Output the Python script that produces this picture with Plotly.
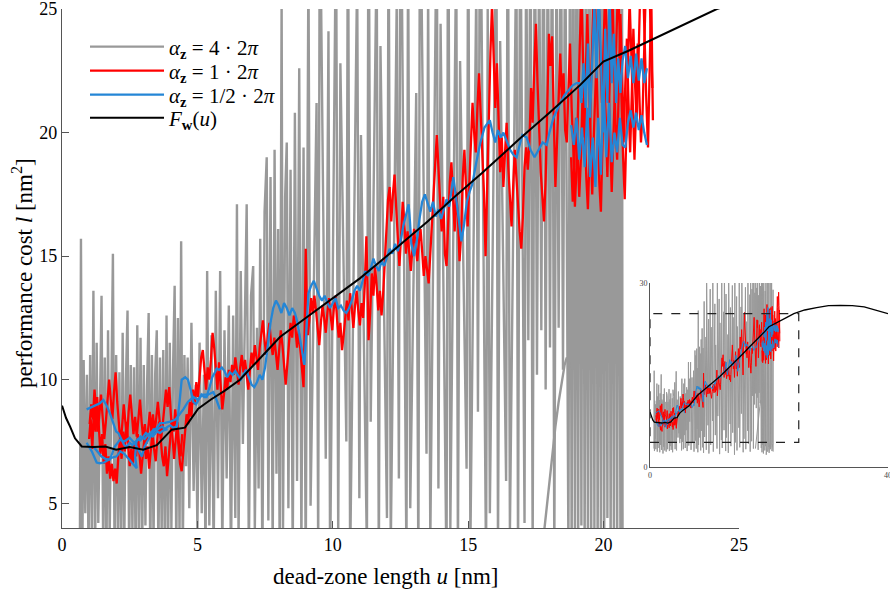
import plotly.graph_objects as go

# ---------------- data ----------------
# F_w(u): black reference curve (continues to u=40 in the inset)
fw_u = [0, 0.15, 0.3, 0.48, 0.73, 1.16, 1.6, 2.0, 2.5, 3.0, 3.5, 4.05, 4.54, 5.03, 5.5, 6.0,
        6.57, 7.3, 8.05, 9.0, 10.0, 11.0, 11.74, 12.48, 13.5, 14.5, 15.5, 16.91, 18.0, 19.13,
        19.99, 20.9, 21.8, 23.0, 24.18, 26, 28, 30, 32, 34, 36, 38, 40]
fw_v = [8.95, 8.45, 8.1, 7.63, 7.3, 7.28, 7.3, 7.17, 7.28, 7.17, 7.35, 7.98, 8.06, 8.83, 9.2, 9.55,
        10.0, 10.85, 11.73, 12.5, 13.3, 14.1, 14.77, 15.45, 16.4, 17.4, 18.35, 19.76, 20.8, 21.92,
        22.87, 23.3, 23.77, 24.4, 25.0, 25.6, 26.0, 26.3, 26.35, 26.3, 26.1, 25.6, 25.0]

# alpha_z = 4*2pi  (gray, very noisy)  (u, l) pairs, None = break between runs
gray_pts = [
    (0.66, 3.0), (0.70, 15.7), (0.75, 2.6), (0.80, 10.8), (0.86, 4.6), (0.92, 10.2), (0.98, 2.9),
    (1.04, 11.0), (1.10, 3.8), (1.16, 13.6), (1.22, 2.5), (1.28, 11.5), (1.34, 4.2), (1.40, 9.8),
    (1.46, 13.4), (1.52, 3.1), (1.58, 10.9), (1.64, 2.4), (1.70, 12.0), (1.76, 3.6), (1.82, 9.6),
    (1.88, 15.1), (1.94, 2.8), (2.00, 11.0), (2.06, 3.9), (2.12, 10.3), (2.18, 2.2), (2.24, 11.9),
    (2.30, 3.3), (2.36, 9.9), (2.42, 12.8), (2.48, 2.7), (2.54, 10.6), (2.60, 3.8), (2.66, 10.5),
    (2.72, 2.5), (2.78, 12.2), (2.84, 3.5), (2.90, 11.7), (2.96, 2.9), (3.02, 10.6), (3.08, 4.1),
    (3.14, 9.7), (3.20, 12.7), (3.26, 2.6), (3.32, 11.0), (3.38, 3.4), (3.44, 10.2), (3.50, 12.0),
    (3.56, 2.8), (3.62, 10.9), (3.68, 3.7), (3.74, 11.2), (3.80, 2.4), (3.86, 12.6), (3.92, 3.2),
    (3.98, 11.5), (4.04, 4.0), (4.10, 10.4), (4.16, 13.8), (4.22, 2.9), (4.28, 12.5), (4.34, 3.6),
    (4.40, 15.6), (4.46, 2.7), (4.52, 11.0),
    (4.58, 6.5), (4.64, 10.9), (4.70, 4.8), (4.78, 12.3), (4.86, 5.5), (4.94, 9.8), (5.00, 3.9),
    (5.08, 11.5), (5.16, 4.6), (5.24, 10.2), (5.30, 2.7), (5.36, 14.4), (5.44, 4.1), (5.52, 11.8),
    (5.60, 2.9), (5.68, 13.6), (5.76, 5.2), (5.84, 14.4), (5.92, 3.1), (6.00, 12.0), (6.08, 6.0),
    (6.16, 13.0), (6.24, 2.6), (6.32, 12.6), (6.40, 4.4), (6.46, 17.1), (6.52, 3.5), (6.60, 14.4),
    (6.68, 7.4), (6.76, 12.8), (6.82, 17.1), (6.90, 2.8), (6.98, 13.4), (7.06, 14.6), (7.12, 3.9),
    (7.20, 12.1), (7.26, 5.6), (7.32, 15.7), (7.40, 2.5), (7.48, 16.8), (7.56, 19.0), (7.62, 4.3),
    (7.70, 18.2), (7.78, 3.0), (7.85, 19.3), (7.92, 6.2), (7.98, 16.1), (8.04, 2.4), (8.11, 25.5),
    (8.16, 3.6), (8.24, 17.4), (8.30, 19.6), (8.36, 4.8), (8.44, 18.5), (8.52, 2.7), (8.60, 20.8),
    (8.68, 5.9), (8.76, 22.6), (8.84, 3.2), (8.92, 19.4), (9.00, 2.3),
    (9.10, 27.0), (9.18, 4.9), (9.40, 21.2), (9.46, 2.8), (9.52, 30.5), (9.74, 6.8), (9.84, 24.1),
    (9.90, 2.2), (10.12, 29.0), (10.20, 3.6), (10.28, 22.8), (10.50, 7.5), (10.56, 31.0),
    (10.64, 2.5), (10.90, 26.6), (10.98, 5.2), (11.04, 19.9), (11.26, 3.0), (11.32, 32.5),
    (11.40, 8.3), (11.62, 27.4), (11.70, 2.1), (11.76, 23.5), (12.00, 4.4), (12.06, 30.0),
    (12.14, 3.1), (12.36, 25.3), (12.44, 6.0), (12.50, 33.0), (12.72, 2.6), (12.78, 28.2),
    (12.86, 4.8), (13.08, 21.6), (13.16, 2.3), (13.22, 31.5), (13.46, 7.0), (13.52, 26.0),
    (13.60, 3.4), (13.84, 29.6), (13.90, 5.6), (13.98, 24.4), (14.20, 2.0), (14.26, 33.4),
    (14.34, 4.0), (14.56, 27.8), (14.62, 2.7), (14.70, 22.9), (14.94, 6.4), (15.00, 30.8),
    (15.08, 3.2), (15.30, 26.1), (15.36, 8.7), (15.44, 31.9), (15.66, 2.4), (15.72, 25.0),
    (15.80, 4.6), (16.04, 29.3), (16.10, 2.9), (16.18, 23.7), (16.40, 5.9), (16.46, 32.6),
    (16.54, 3.8), (16.78, 28.1), (16.84, 2.5), (16.92, 30.7), (17.08, 4.2),
    (17.14, 29.0), (17.22, 11.6), (17.30, 30.5), (17.38, 3.0), (17.46, 31.0),
    (17.54, 10.2), (17.62, 28.4), (17.70, 12.0), (17.78, 31.5), (17.86, 9.6), (17.94, 29.2),
    (18.02, 11.3), (18.10, 30.8), (18.18, 2.8), (18.26, 28.0), (18.34, 12.1), (18.42, 31.3),
    (18.50, 10.4), (18.58, 29.5),
    (18.70, 3.1), (18.76, 30.2), (18.82, 2.4), (18.88, 31.8), (18.94, 3.6), (19.00, 29.4),
    (19.06, 2.2), (19.12, 32.5), (19.18, 4.1), (19.24, 30.9), (19.30, 2.7), (19.36, 28.7),
    (19.42, 3.4), (19.48, 33.0), (19.54, 2.0), (19.60, 30.0), (19.66, 3.9), (19.72, 31.4),
    (19.78, 2.5), (19.84, 29.8), (19.90, 3.2), (19.96, 32.2), (20.02, 2.3), (20.08, 30.6),
    (20.14, 4.4), (20.20, 31.0), (20.26, 2.9), (20.32, 29.1), (20.38, 3.5), (20.44, 32.9),
    (20.50, 2.6), (20.56, 30.3), (20.62, 3.8), (20.68, 28.9), (20.70, 2.5),
    (None, None),
    (17.72, 3.0), (17.85, 4.4), (17.98, 5.8), (18.10, 7.0), (18.22, 8.1), (18.34, 9.1),
    (18.46, 9.9), (18.56, 10.6), (18.64, 10.9), (18.72, 10.7), (18.78, 10.2),
]

# alpha_z = 1*2pi  (red)
red_pts = [
    (1.00, 7.6), (1.06, 8.4), (1.12, 7.2), (1.18, 8.9), (1.24, 7.9), (1.30, 9.3), (1.36, 8.1),
    (1.42, 7.0), (1.48, 7.8), (1.54, 6.6), (1.60, 7.4), (1.66, 6.2), (1.72, 6.9), (1.78, 6.0),
    (1.84, 6.6), (1.90, 5.9), (1.96, 6.4), (2.02, 5.8), (2.08, 6.9), (2.14, 7.6), (2.20, 6.8),
    (2.26, 7.9), (2.32, 7.1), (2.38, 8.3), (2.44, 7.4), (2.50, 6.5), (2.56, 7.2), (2.62, 6.6),
    (2.68, 7.5), (2.74, 6.9), (2.80, 7.8), (2.86, 7.0), (2.92, 6.2), (2.98, 6.9), (3.04, 7.6),
    (3.10, 6.8), (3.16, 7.3), (3.22, 6.4), (3.28, 7.1), (3.34, 7.9), (3.40, 7.2), (3.46, 6.7),
    (3.52, 7.6), (3.58, 8.3), (3.64, 7.7), (3.70, 6.9), (3.76, 6.5), (3.82, 7.3), (3.88, 6.1),
    (3.94, 6.8), (4.00, 7.6), (4.06, 8.4), (4.12, 7.9), (4.18, 8.8), (4.24, 8.1), (4.30, 7.2),
    (4.36, 6.6), (4.42, 6.3), (4.48, 7.0),
    (4.54, 8.0), (4.60, 8.6), (4.66, 8.2), (4.72, 9.1), (4.78, 8.5), (4.84, 9.6), (4.90, 9.0),
    (4.96, 9.9), (5.02, 9.3), (5.08, 10.2), (5.14, 10.9), (5.20, 11.2), (5.26, 10.3), (5.32, 9.6),
    (5.38, 10.5), (5.44, 10.0), (5.50, 10.8), (5.56, 11.9), (5.62, 11.3), (5.68, 10.4),
    (5.74, 9.6), (5.80, 10.7), (5.86, 9.5), (5.92, 8.8), (5.98, 9.4), (6.04, 10.1), (6.10, 9.6),
    (6.16, 10.4), (6.22, 9.9), (6.28, 10.6), (6.34, 10.2), (6.40, 10.9), (6.46, 10.4),
    (6.52, 9.8), (6.58, 10.5), (6.64, 11.0), (6.70, 10.3), (6.76, 10.8), (6.82, 10.2),
    (6.88, 9.6), (6.94, 10.4), (7.00, 11.1), (7.06, 10.6), (7.12, 11.4), (7.18, 10.9),
    (7.24, 10.4), (7.30, 11.3), (7.36, 11.9), (7.42, 12.4), (7.48, 11.6), (7.54, 11.0),
    (7.60, 11.8), (7.66, 12.3), (7.72, 11.5), (7.78, 11.0), (7.84, 11.7), (7.90, 10.9),
    (7.96, 10.4), (8.02, 11.2), (8.08, 12.0), (8.14, 11.4), (8.20, 10.5), (8.26, 9.8),
    (8.32, 10.6), (8.38, 11.6), (8.44, 12.3), (8.50, 11.7), (8.56, 12.6), (8.62, 12.1),
    (8.68, 11.3), (8.74, 12.0), (8.80, 11.2), (8.86, 10.3), (8.92, 9.7), (8.96, 12.0),
    (9.00, 15.3), (9.04, 13.0), (9.08, 11.8), (9.14, 12.5), (9.20, 13.3), (9.26, 12.7),
    (9.32, 13.4), (9.38, 12.8), (9.44, 12.2), (9.50, 11.4), (9.56, 12.3), (9.62, 13.0),
    (9.68, 12.5), (9.74, 11.9), (9.80, 12.7), (9.86, 13.3), (9.92, 12.6), (9.98, 12.0),
    (10.04, 12.9), (10.10, 13.4), (10.16, 12.4), (10.22, 11.7), (10.28, 12.3), (10.34, 11.2),
    (10.40, 11.8), (10.46, 12.6), (10.52, 13.2), (10.58, 12.4), (10.64, 13.5), (10.70, 12.9),
    (10.76, 12.1), (10.82, 13.0), (10.88, 13.6), (10.94, 12.8), (11.00, 12.2), (11.06, 13.1),
    (11.12, 12.5), (11.18, 13.8), (11.24, 15.8), (11.28, 13.9), (11.32, 11.6), (11.38, 12.7),
    (11.44, 14.3), (11.50, 13.4), (11.56, 14.6), (11.62, 13.8), (11.68, 12.8), (11.74, 13.6),
    (11.80, 12.6), (11.86, 13.5), (11.92, 14.8), (11.98, 16.2), (12.04, 17.3), (12.10, 17.8),
    (12.16, 16.4), (12.22, 17.5), (12.28, 18.3), (12.34, 17.0), (12.40, 15.6), (12.46, 14.6),
    (12.52, 15.8), (12.58, 17.2), (12.64, 16.4), (12.70, 15.1), (12.76, 16.0), (12.82, 15.0),
    (12.88, 14.4), (12.94, 15.3), (13.00, 16.1), (13.06, 15.4), (13.12, 14.8), (13.18, 15.6),
    (13.24, 16.1), (13.30, 15.2), (13.36, 14.2), (13.42, 15.0), (13.48, 14.4), (13.54, 13.9),
    (13.60, 15.1), (13.66, 16.4), (13.72, 17.6), (13.78, 18.8), (13.84, 19.9), (13.90, 18.6),
    (13.96, 17.0), (14.02, 16.0), (14.08, 17.4), (14.14, 15.1), (14.20, 14.6), (14.26, 16.3),
    (14.32, 18.0), (14.38, 18.8), (14.44, 17.2), (14.50, 16.0), (14.56, 17.6), (14.62, 16.6),
    (14.68, 14.8), (14.74, 15.9), (14.80, 18.2), (14.86, 19.3), (14.92, 17.8), (14.98, 16.2),
    (15.04, 17.9), (15.10, 19.6), (15.16, 21.2), (15.22, 20.0), (15.28, 19.2), (15.34, 21.0),
    (15.40, 22.4), (15.46, 20.8), (15.52, 19.4), (15.58, 17.6), (15.64, 15.0), (15.70, 17.8),
    (15.76, 21.5), (15.82, 23.2), (15.88, 25.2), (15.94, 23.0), (16.00, 21.0), (16.06, 22.8),
    (16.12, 20.2), (16.18, 18.4), (16.24, 19.8), (16.30, 17.8), (16.36, 19.2), (16.42, 20.4),
    (16.48, 18.6), (16.54, 17.2), (16.60, 16.2), (16.66, 17.8), (16.72, 19.3), (16.78, 18.2),
    (16.84, 17.0), (16.90, 16.0), (16.96, 15.3), (17.02, 16.6), (17.08, 18.6), (17.14, 19.4),
    (17.20, 18.5), (17.26, 19.6), (17.32, 21.8), (17.38, 20.4), (17.44, 22.6), (17.50, 24.4),
    (17.56, 22.0), (17.62, 19.8), (17.68, 18.4), (17.74, 17.4), (17.80, 16.4), (17.86, 18.1),
    (17.92, 21.4), (17.98, 24.0), (18.04, 22.7), (18.10, 23.9), (18.16, 20.6), (18.22, 17.8),
    (18.28, 19.6), (18.34, 21.8), (18.40, 23.2), (18.46, 21.3), (18.52, 22.4), (18.58, 20.1),
    (18.64, 19.6), (18.70, 21.7), (18.76, 23.6), (18.82, 21.0), (18.88, 19.4), (18.94, 17.0),
    (19.00, 18.6), (19.06, 21.2), (19.12, 23.8), (19.18, 25.8), (19.24, 23.0), (19.30, 20.4),
    (19.36, 18.2), (19.42, 16.9), (19.48, 19.0), (19.54, 22.1), (19.60, 24.6), (19.66, 26.5),
    (19.72, 23.6), (19.78, 20.8), (19.84, 18.0), (19.90, 16.8), (19.96, 19.5), (20.02, 22.4),
    (20.08, 20.6), (20.14, 18.2), (20.20, 21.0), (20.26, 24.2), (20.32, 26.0), (20.38, 23.1),
    (20.44, 20.3), (20.50, 18.9), (20.56, 21.6), (20.62, 24.8), (20.68, 22.5), (20.74, 19.6),
    (20.80, 21.9), (20.86, 23.8), (20.92, 21.2), (20.98, 19.2), (21.04, 21.5), (21.10, 24.2),
    (21.16, 22.0), (21.22, 20.4), (21.28, 22.6), (21.34, 25.4), (21.40, 27.8), (21.46, 26.0),
    (21.52, 23.4), (21.58, 21.2), (21.64, 19.4), (21.70, 22.0), (21.76, 25.6), (21.82, 20.5),
    (None, None),
    (1.02, 8.2), (1.08, 9.0), (1.14, 8.4), (1.20, 9.6), (1.26, 8.8), (1.32, 7.9), (1.38, 8.6),
    (1.44, 9.4), (1.50, 8.5), (1.56, 7.6), (1.62, 8.3), (1.68, 9.1), (1.74, 10.0), (1.80, 9.2),
    (1.86, 8.4), (1.92, 9.5), (1.98, 10.3), (2.04, 9.1), (2.10, 8.2), (2.16, 7.4), (2.22, 8.1),
    (2.28, 9.0), (2.34, 8.3), (2.40, 7.6), (2.46, 8.7), (2.52, 9.4), (2.58, 8.6), (2.64, 7.8),
    (2.70, 8.5), (2.76, 7.7), (2.82, 8.4), (2.88, 9.2), (2.94, 8.3), (3.00, 7.6), (3.06, 8.2),
    (3.12, 7.4), (3.18, 8.0), (3.24, 8.7), (3.30, 7.9), (3.36, 8.6), (3.42, 7.8), (3.48, 8.5),
    (3.54, 9.1), (3.60, 8.4), (3.66, 7.6), (3.72, 8.2), (3.78, 9.0), (3.84, 9.6), (3.90, 8.9),
    (3.96, 9.7), (4.02, 8.6), (4.08, 7.5), (4.14, 6.8), (4.20, 7.6), (4.26, 8.3), (4.32, 7.4),
    (4.38, 6.9), (4.44, 7.8),
    (None, None),
    (18.80, 19.0), (18.86, 17.2), (18.92, 18.8), (18.98, 20.6), (19.04, 19.2), (19.10, 17.4),
    (19.16, 18.9), (19.22, 21.4), (19.28, 19.8), (19.34, 22.8), (19.40, 24.8), (19.46, 22.0),
    (19.52, 19.2), (19.58, 17.5), (19.64, 19.9), (19.70, 21.8), (19.76, 24.0), (19.82, 25.6),
    (19.88, 23.0), (19.94, 21.2), (20.00, 23.6), (20.06, 25.8), (20.12, 24.0), (20.18, 22.2),
    (20.24, 19.8), (20.30, 17.6), (20.36, 19.6), (20.42, 22.3), (20.48, 24.5), (20.54, 26.2),
    (20.60, 23.8), (20.66, 21.0), (20.72, 19.0), (20.78, 17.3), (20.84, 19.8), (20.90, 23.0),
    (20.96, 25.4), (21.02, 23.3), (21.08, 20.6), (21.14, 18.9), (21.20, 21.0), (21.26, 23.6),
    (21.32, 21.5), (21.38, 19.6), (21.44, 20.8), (21.50, 23.0), (21.56, 26.2), (21.62, 28.5),
    (21.68, 26.3), (21.74, 23.6), (21.80, 21.8),
]

# alpha_z = 1/2*2pi  (blue)
blue_pts = [
    (0.91, 8.8), (1.0, 8.85), (1.1, 8.9), (1.2, 8.95), (1.3, 9.0), (1.4, 9.05), (1.53, 9.18),
    (1.65, 8.95), (1.77, 8.64), (1.9, 8.2), (2.0, 7.9), (2.08, 7.84), (2.2, 7.55), (2.3, 7.35),
    (2.39, 7.3), (2.5, 7.45), (2.6, 7.35), (2.7, 7.5), (2.8, 7.6), (2.9, 7.55), (3.0, 7.7),
    (3.1, 7.85), (3.2, 7.75), (3.3, 7.9), (3.4, 8.0), (3.5, 7.95), (3.6, 8.05), (3.7, 8.1),
    (3.8, 8.0), (3.9, 8.1), (4.0, 8.15), (4.1, 8.05), (4.24, 8.1), (4.35, 9.2), (4.42, 10.0),
    (4.55, 10.1), (4.65, 10.0), (4.75, 9.6), (4.85, 9.1), (4.95, 9.0), (5.05, 9.2), (5.15, 9.4),
    (5.25, 9.3), (5.34, 9.3), (5.45, 9.7), (5.55, 10.1), (5.65, 10.3), (5.71, 10.45), (5.8, 10.4),
    (5.9, 10.5), (6.0, 10.35), (6.1, 10.1), (6.2, 10.3), (6.3, 10.2), (6.4, 10.35), (6.5, 10.2),
    (6.6, 10.0), (6.7, 10.2), (6.8, 10.4), (6.9, 10.1), (7.0, 9.8), (7.1, 9.7), (7.2, 9.9),
    (7.3, 10.2), (7.4, 10.0), (7.5, 10.5), (7.6, 11.4), (7.7, 12.3), (7.8, 12.9), (7.9, 13.2),
    (8.0, 13.0), (8.1, 12.7), (8.2, 13.1), (8.3, 12.9), (8.4, 12.6), (8.5, 12.9), (8.6, 12.7),
    (8.7, 12.3), (8.8, 11.6), (8.9, 10.9), (8.95, 10.6), (9.0, 11.5), (9.1, 13.5), (9.2, 13.8),
    (9.3, 14.0), (9.4, 13.7), (9.5, 13.4), (9.6, 13.2), (9.7, 13.4), (9.8, 13.1), (9.9, 12.9),
    (10.0, 13.1), (10.1, 13.3), (10.2, 12.9), (10.3, 13.0), (10.4, 12.8), (10.5, 12.7),
    (10.6, 12.9), (10.7, 13.2), (10.8, 13.6), (10.9, 13.8), (11.0, 13.6), (11.1, 14.0),
    (11.2, 14.4), (11.3, 14.2), (11.4, 14.5), (11.5, 14.9), (11.6, 14.6), (11.7, 14.4),
    (11.8, 14.8), (11.9, 14.6), (12.0, 15.0), (12.1, 15.3), (12.2, 15.1), (12.3, 15.5),
    (12.4, 15.2), (12.5, 15.6), (12.6, 16.2), (12.7, 16.7), (12.8, 17.1), (12.85, 16.4),
    (12.9, 15.5), (13.0, 15.0), (13.1, 15.6), (13.2, 16.5), (13.3, 17.2), (13.4, 17.5),
    (13.5, 17.1), (13.6, 16.8), (13.7, 17.2), (13.8, 16.6), (13.9, 16.9), (14.0, 16.5),
    (14.1, 16.9), (14.2, 17.3), (14.3, 17.0), (14.45, 18.2), (14.55, 17.4), (14.65, 16.6),
    (14.75, 15.6), (14.85, 16.3), (14.95, 17.2), (15.05, 17.6), (15.15, 17.9), (15.3, 18.8),
    (15.45, 19.6), (15.6, 20.2), (15.8, 20.5), (15.9, 20.0), (16.0, 19.6), (16.1, 20.1),
    (16.2, 19.8), (16.3, 20.0), (16.42, 19.7), (16.55, 19.3), (16.67, 19.1), (16.79, 19.0),
    (16.9, 19.5), (17.0, 19.9), (17.16, 19.8), (17.3, 19.3), (17.45, 19.0), (17.6, 19.3),
    (17.75, 19.6), (17.9, 19.5), (18.0, 20.0), (18.15, 20.6), (18.27, 20.9), (18.4, 21.2),
    (18.55, 21.5), (18.7, 21.7), (18.85, 21.9), (19.0, 22.0), (19.1, 22.0), (19.18, 21.2),
    (19.26, 22.8), (19.34, 21.0), (19.42, 23.6), (19.5, 20.6), (19.58, 23.0), (19.66, 25.2),
    (19.74, 22.2), (19.82, 26.0), (19.9, 23.0), (19.98, 20.0), (20.06, 24.2), (20.14, 21.2),
    (20.22, 25.6), (20.3, 22.0), (20.38, 24.0), (20.46, 21.2), (20.54, 23.0), (20.62, 21.6),
    (20.7, 22.9), (20.8, 23.5), (20.9, 22.2), (21.0, 23.1), (21.1, 22.0), (21.2, 23.2),
    (21.3, 22.1), (21.4, 23.0), (21.5, 22.0), (21.6, 22.6),
    (None, None),
    (0.91, 7.45), (1.0, 7.3), (1.1, 7.1), (1.2, 6.85), (1.28, 6.65), (1.4, 6.62), (1.55, 6.65),
    (1.7, 6.75), (1.85, 6.85), (2.02, 6.9), (2.15, 7.1), (2.3, 7.0), (2.45, 6.8), (2.6, 6.6),
    (2.76, 6.42), (2.7, 6.9), (2.75, 7.5), (2.9, 7.7), (3.05, 7.6), (3.2, 7.8), (3.35, 7.7),
    (3.5, 7.9), (3.62, 7.85), (3.75, 7.95), (3.9, 8.0),
    (None, None),
    (1.16, 7.3), (1.3, 7.1), (1.45, 6.9), (1.6, 6.8), (1.77, 6.77), (1.95, 7.3), (2.14, 7.57),
    (2.3, 7.5), (2.5, 7.65), (2.7, 7.4), (2.85, 7.1), (2.95, 6.9), (3.05, 7.3), (3.2, 7.6),
    (3.4, 7.9), (3.62, 8.24), (3.8, 8.25), (4.0, 8.3), (4.2, 8.4), (4.35, 8.6), (4.48, 8.8),
    (4.65, 9.1), (4.85, 9.3), (5.0, 9.2), (5.2, 9.4), (5.4, 9.4), (5.59, 9.5), (5.7, 9.2),
    (5.83, 8.8),
    (None, None),
    (18.8, 20.3), (18.9, 19.5), (19.0, 20.6), (19.1, 18.9), (19.2, 20.2), (19.3, 18.6),
    (19.4, 21.0), (19.5, 18.2), (19.6, 19.8), (19.7, 17.8), (19.8, 20.6), (19.9, 18.3),
    (20.0, 21.8), (20.1, 19.0), (20.2, 21.2), (20.3, 18.8), (20.4, 20.0), (20.5, 19.2),
    (20.6, 20.6), (20.7, 19.5), (20.8, 19.4), (20.9, 20.4), (21.0, 20.9), (21.1, 20.2),
    (21.2, 20.8), (21.3, 20.1), (21.4, 20.7), (21.5, 20.0), (21.6, 19.5),
]

series_names = ["<i>α</i><sub><b>z</b></sub> = 4 · 2<i>π</i>",
                "<i>α</i><sub><b>z</b></sub> = 1 · 2<i>π</i>",
                "<i>α</i><sub><b>z</b></sub> = 1/2 · 2<i>π</i>",
                "<i>F</i><sub><b>w</b></sub>(<i>u</i>)"]
x_ticks = [0, 5, 10, 15, 20, 25]
y_ticks = [5, 10, 15, 20, 25]
x_range = [0, 25]
y_range = [4, 25]
inset_x_range = [0, 40]
inset_y_range = [0, 30]
inset_x_ticks = [0, 40]
inset_y_ticks = [0, 30]


def split(pts):
    return [p[0] for p in pts], [p[1] for p in pts]


gray_u, gray_v = split(gray_pts)
red_u, red_v = split(red_pts)
blue_u, blue_v = split(blue_pts)

GRAY, RED, BLUE, BLACK = "#999999", "#ff0000", "#2486d6", "#000000"
FONT = "Liberation Serif"
W, H = 890, 592

fig = go.Figure()
styles = [(gray_u, gray_v, GRAY, 2.4), (red_u, red_v, RED, 2.3),
          (blue_u, blue_v, BLUE, 2.3), (fw_u, fw_v, BLACK, 2.0)]
legend_ids = ["legend", "legend2", "legend3", "legend4"]
for (xs, ys, col, w), name, lg in zip(styles, series_names, legend_ids):
    fig.add_trace(go.Scatter(x=xs, y=ys, mode="lines", name=name, legend=lg,
                             line=dict(color=col, width=w), connectgaps=False,
                             xaxis="x", yaxis="y"))
for (xs, ys, col, w) in styles:
    fig.add_trace(go.Scatter(x=xs, y=ys, mode="lines", showlegend=False,
                             line=dict(color=col, width=1.0 if col != BLACK else 1.3),
                             connectgaps=False, xaxis="x2", yaxis="y2"))

fig.add_shape(type="rect", xref="x2", yref="y2", x0=x_range[0], x1=x_range[1],
              y0=y_range[0], y1=y_range[1], line=dict(color="#222", width=1.2, dash="dash"))

axis_common = dict(showgrid=False, zeroline=False, showline=True, linecolor="#555555",
                   ticks="inside", tickcolor="#555555", mirror=False, automargin=False,
                   ticklabeloverflow="allow")

legend_rows = [47, 71, 95, 118]
legend_layout = {}
for lg, row in zip(legend_ids, legend_rows):
    legend_layout[lg] = dict(x=85 / W, y=1 - row / H, xanchor="left", yanchor="middle",
                             bgcolor="rgba(0,0,0,0)", font=dict(size=21, family=FONT),
                             itemwidth=74)

fig.update_layout(
    width=W, height=H, margin=dict(l=0, r=0, t=0, b=0, pad=0, autoexpand=False),
    paper_bgcolor="white", plot_bgcolor="white",
    font=dict(family=FONT, color="#000"),
    xaxis=dict(domain=[62 / W, 739 / W], range=x_range, tickvals=x_ticks, ticklen=7,
               linewidth=1.3, tickwidth=1.2, tickfont=dict(size=18, family=FONT),
               anchor="y", **axis_common),
    yaxis=dict(domain=[64 / H, 583 / H], range=y_range, tickvals=y_ticks, ticklen=7,
               linewidth=1.3, tickwidth=1.2, tickfont=dict(size=18, family=FONT),
               anchor="x", **axis_common),
    xaxis2=dict(domain=[650 / W, 888 / W], range=inset_x_range, tickvals=inset_x_ticks,
                ticklen=3, linewidth=1.0, tickfont=dict(size=8, family=FONT, color="#444"),
                anchor="y2", **axis_common),
    yaxis2=dict(domain=[125 / H, 309 / H], range=inset_y_range, tickvals=inset_y_ticks,
                ticklen=3, linewidth=1.0, tickfont=dict(size=8, family=FONT, color="#444"),
                anchor="x2", **axis_common),
    showlegend=True,
    **legend_layout,
)

fig.add_annotation(text="dead-zone length <i>u</i> [nm]", xref="paper", yref="paper",
                   x=385 / W, y=1 - 576 / H, xanchor="center", yanchor="middle",
                   showarrow=False, font=dict(size=23, family=FONT))
fig.add_annotation(text="performance cost <i>l</i> [nm<sup>2</sup>]", xref="paper", yref="paper",
                   x=22 / W, y=1 - 273 / H, xanchor="center", yanchor="middle",
                   showarrow=False, textangle=-90, font=dict(size=23, family=FONT))

fig.write_html("out.html",
               post_script="document.body.style.margin='0';"
                           "document.body.style.overflow='hidden';")
